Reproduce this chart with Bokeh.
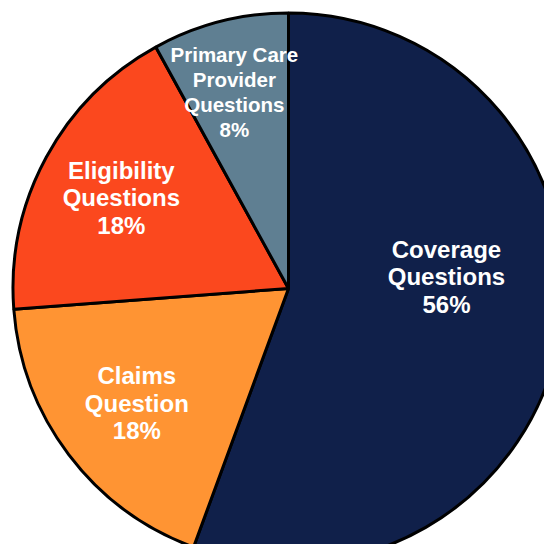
import numpy as np
from bokeh.plotting import figure
from bokeh.models import ColumnDataSource, Range1d
from bokeh.core.properties import value
from bokeh.embed import file_html
from bokeh.resources import INLINE

# ---- data ----
categories = ["Coverage\nQuestions", "Claims\nQuestion", "Eligibility\nQuestions",
              "Primary Care\nProvider\nQuestions"]
shares = [55.6, 18.2, 18.2, 8.0]
pct_labels = ["56%", "18%", "18%", "8%"]
colors = ["#10204A", "#FF9433", "#FB481E", "#5F7F92"]

# ---- layout / style ----
W = H = 544
cx, cy = 288, 272
R = 275.5
label_r = [0.575, 0.69, 0.69, 0.74]
label_shift = [-14.4, 0, 0, -1.0]   # degrees, clockwise from top
font_sizes = ["24px", "24px", "24px", "20.5px"]
line_heights = [1.02, 1.02, 1.02, 1.09]

vals = np.array(shares, dtype=float)
frac = vals / vals.sum()
cum = np.concatenate([[0], np.cumsum(frac)]) * 360.0  # clockwise from top
a0, a1 = cum[:-1], cum[1:]
start = 90 - a1
end = 90 - a0

src = ColumnDataSource(dict(start=start, end=end, color=colors))

p = figure(width=W, height=H, output_backend="svg", toolbar_location=None,
           x_range=Range1d(0, W), y_range=Range1d(560 - H, 560),
           min_border=0, outline_line_color=None)
p.axis.visible = False
p.grid.visible = False
p.background_fill_color = "white"
p.border_fill_color = "white"

p.wedge(x=cx, y=cy, radius=R, start_angle="start", end_angle="end",
        start_angle_units="deg", end_angle_units="deg", direction="anticlock",
        fill_color="color", line_color="black", line_width=3, source=src)

mid = (a0 + a1) / 2 + np.array(label_shift)
rad = np.deg2rad(mid)
lx = cx + np.array(label_r) * R * np.sin(rad)
ly = cy + np.array(label_r) * R * np.cos(rad)

for i in range(len(categories)):
    txt = categories[i] + "\n" + pct_labels[i]
    p.text(x=[lx[i]], y=[ly[i]], text=[txt], text_align="center",
           text_baseline="middle", text_color="white",
           text_font=value("Liberation Sans"), text_font_style="bold",
           text_font_size=font_sizes[i], text_line_height=line_heights[i])

open("out.html", "w").write(file_html(p, INLINE))
